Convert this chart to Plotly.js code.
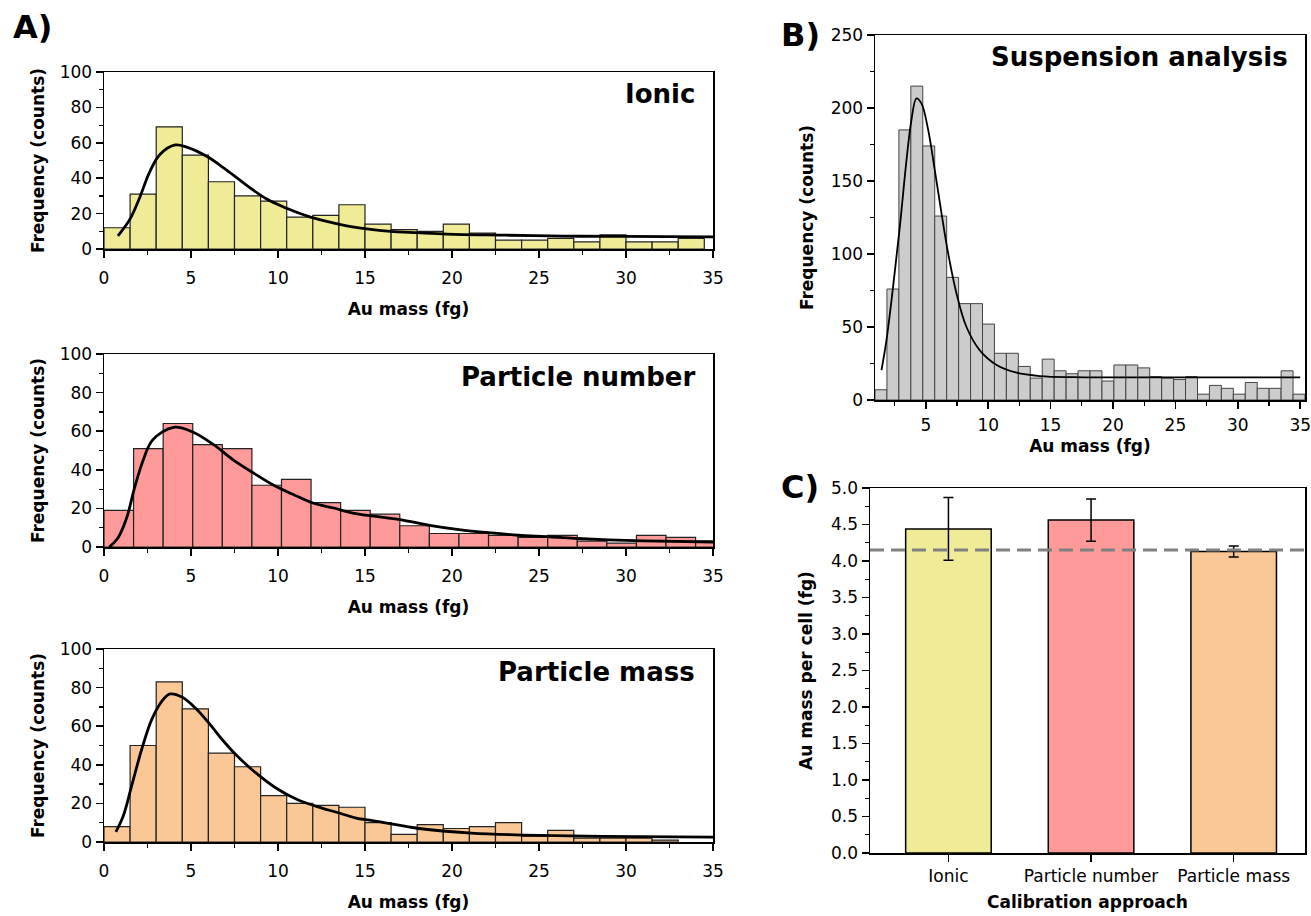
<!DOCTYPE html>
<html><head><meta charset="utf-8">
<script src="https://cdn.plot.ly/plotly-3.0.1.min.js"></script>
<style>html,body{margin:0;padding:0;background:#fff}#chart{width:1311px;height:916px}</style>
</head><body><div id="chart"></div>
<script>
// ---------- DATA ----------
// Panel A: histograms of Au mass per cell (fg), counts per bin
const ionicBinStart = 0, ionicBinWidth = 1.5;
const ionicCounts = [12,31,69,53,38,30,27,18,19,25,14,11,10,14,9,5,5,6,4,8,4,4,6];
const ionicFitX = [0.8,1.5,2.05,2.6,3.2,4.1,4.75,5.9,7.05,8.2,9.35,10.5,11.65,12.8,13.95,15.1,16.45,18,19.7,23.1,26.4,29.8,35];
const ionicFitY = [7.4,17,29,43,53.3,58.8,57.6,52.4,44.6,36,28.2,23,18.7,15.6,13.1,11.4,10,9.2,8.4,7.8,7.3,7.1,6.9];

const pnBinStart = 0, pnBinWidth = 1.7;
const pnCounts = [19,51,64,53,51,32,35,23,19,17,11,7,7,6,5,6,3,2,6,5,3];
const pnFitX = [0.3,0.8,1.3,1.75,2.25,2.8,4,5.1,6.3,7.4,8.6,9.7,10.9,12,13.2,14.3,15.5,17,18.8,20.4,22.1,23.8,25.6,27.2,29,31,35];
const pnFitY = [0,4.7,15,30.5,45,55.5,62,59.6,53,45.3,38.3,32.3,27.1,22.8,20.2,17.6,16,14.2,11.1,9,7.4,6.1,5.3,4.4,3.7,3.2,2.6];

const pmBinStart = 0, pmBinWidth = 1.5;
const pmCounts = [8,50,83,69,46,39,24,20,19,18,10,4,9,7,8,10,3,6,2,2,2,1];
const pmFitX = [0.68,1.1,1.58,2.16,2.74,3.32,3.8,4.48,5.25,6.02,6.8,7.57,8.73,9.88,11.04,12.2,13.36,14.5,15.5,16.25,18.1,21.1,24.1,28.6,35];
const pmFitY = [5.2,13.3,28.8,47.8,63.4,72.9,76.7,75.1,69.4,61.7,53,45.3,35.8,28,22.3,18.5,15.4,12.4,11,9.8,7,4.6,3.6,2.9,2.5];

// Panel B: suspension analysis
const suspBinStart = 0.93, suspBinWidth = 0.957;
const suspCounts = [7,76,185,215,174,126,84,66,66,52,32,32,23,15,28,20,18,20,20,13,24,24,22,16,15,14,16,4,10,8,4,12,8,8,20,4];
const suspFitX = [1.45,1.85,2.38,2.92,3.45,3.85,4.25,4.66,5.19,5.72,6.26,6.79,7.46,8.26,9.33,10.67,12.27,14.14,16.8,25,35];
const suspFitY = [20.5,41,77.6,118.7,164,191.8,206.6,203,185,157.5,127.8,100.5,73,50,34,24,18.7,16.4,15.6,15.5,15.5];

// Panel C: mean Au mass per cell by calibration approach
const calibCategories = ['Ionic','Particle number','Particle mass'];
const calibMass = [4.44,4.56,4.13];
const calibError = [0.43,0.29,0.075];
const referenceMass = 4.15;

// ---------- STYLE ----------
const W = 1311, H = 916;
const FONT = 'DejaVu Sans, Liberation Sans, Arial, sans-serif';
const colIonic = '#F0EB96', colPN = '#FF9A9A', colPM = '#FAC896', colSusp = '#CCCCCC';
const dx = (a,b) => [a/W, b/W];
const dy = (top,bottom) => [1-bottom/H, 1-top/H];

function centers(start, width, counts){ return counts.map((_, i) => start + (i + 0.5) * width); }

function axis(extra){
  return Object.assign({
    showline:true, linecolor:'#000', linewidth:1.5, mirror:true,
    ticks:'outside', ticklen:7, tickwidth:1.5, tickcolor:'#000',
    showgrid:false, zeroline:false, fixedrange:true, ticklabeloverflow:'allow',
    tickfont:{family:FONT, size:17, color:'#000'},
    minor:{ticks:'outside', ticklen:4, tickwidth:1.2, tickcolor:'#000'}
  }, extra);
}
function title(t, standoff){ return {text:'<b>'+t+'</b>', font:{family:FONT, size:17, color:'#000'}, standoff:standoff}; }

const traces = [];
function hist(xa, ya, start, width, counts, color, lineCol, lw){
  traces.push({type:'bar', x:centers(start,width,counts), y:counts, width:width,
    xaxis:xa, yaxis:ya, marker:{color:color, line:{color:lineCol, width:lw}}, hoverinfo:'x+y'});
}
function fit(xa, ya, xs, ys, w){
  traces.push({type:'scatter', mode:'lines', x:xs, y:ys, xaxis:xa, yaxis:ya,
    line:{color:'#000', width:w, shape:'spline', smoothing:1}, hoverinfo:'skip'});
}

hist('x','y', ionicBinStart, ionicBinWidth, ionicCounts, colIonic, '#222', 1.2);
fit('x','y', ionicFitX, ionicFitY, 2.8);
hist('x2','y2', pnBinStart, pnBinWidth, pnCounts, colPN, '#222', 1.2);
fit('x2','y2', pnFitX, pnFitY, 2.8);
hist('x3','y3', pmBinStart, pmBinWidth, pmCounts, colPM, '#222', 1.2);
fit('x3','y3', pmFitX, pmFitY, 2.8);
hist('x4','y4', suspBinStart, suspBinWidth, suspCounts, colSusp, '#444', 1);
fit('x4','y4', suspFitX, suspFitY, 1.8);
traces.push({type:'bar', x:calibCategories, y:calibMass, width:0.6, xaxis:'x5', yaxis:'y5',
  marker:{color:[colIonic,colPN,colPM], line:{color:'#000', width:1.5}},
  error_y:{type:'data', array:calibError, visible:true, color:'#000', thickness:1.5, width:5}});

const aX = dx(104,713);
const histX = (anchor) => axis({domain:aX, anchor:anchor, range:[0,35], dtick:5, tick0:0,
  minor:{dtick:2.5, ticks:'outside', ticklen:4, tickwidth:1.2, tickcolor:'#000'},
  ticklabelstandoff:6, title:title('Au mass (fg)', 16)});
const histY = (anchor, top, bottom) => axis({domain:dy(top,bottom), anchor:anchor, range:[0,100], dtick:20,
  minor:{dtick:10, ticks:'outside', ticklen:4, tickwidth:1.2, tickcolor:'#000'},
  title:title('Frequency (counts)', 10)});

function label(text, x, y, size, xanchor){
  return {text:'<b>'+text+'</b>', x:x/W, y:1-y/H, xref:'paper', yref:'paper', xanchor:xanchor||'center',
    yanchor:'middle', showarrow:false, font:{family:FONT, size:size, color:'#000'}};
}

const layout = {
  width:W, height:H, margin:{l:0,r:0,t:0,b:0}, showlegend:false,
  paper_bgcolor:'#fff', plot_bgcolor:'#fff', bargap:0,
  font:{family:FONT, color:'#000'},
  xaxis: histX('y'), yaxis: histY('x', 72, 249),
  xaxis2: histX('y2'), yaxis2: histY('x2', 354, 547),
  xaxis3: histX('y3'), yaxis3: histY('x3', 649, 842),
  xaxis4: axis({domain:dx(875,1305), anchor:'y4', range:[suspBinStart, suspBinStart + suspCounts.length*suspBinWidth],
    tickvals:[5,10,15,20,25,30,35], minor:{dtick:2.5, tick0:0, ticks:'outside', ticklen:4, tickwidth:1.2, tickcolor:'#000'},
    ticklabelstandoff:2, title:title('Au mass (fg)', 6)}),
  yaxis4: axis({domain:dy(35,400), anchor:'x4', range:[0,250], dtick:50,
    minor:{dtick:25, ticks:'outside', ticklen:4, tickwidth:1.2, tickcolor:'#000'},
    title:title('Frequency (counts)', 12)}),
  xaxis5: axis({domain:dx(870,1305), anchor:'y5', type:'category', range:[-0.55,2.5],
    minor:{ticks:''}, ticklabelstandoff:0, title:title('Calibration approach', 11)}),
  yaxis5: axis({domain:dy(488,853), anchor:'x5', range:[0,5], dtick:0.5, tickformat:'.1f',
    minor:{dtick:0.25, ticks:'outside', ticklen:4, tickwidth:1.2, tickcolor:'#000'},
    title:title('Au mass per cell (fg)', 14)}),
  shapes:[{type:'line', xref:'x5 domain', yref:'y5', x0:0, x1:1, y0:referenceMass, y1:referenceMass,
    line:{color:'#808080', width:3, dash:'14px,7px'}, layer:'above'}],
  annotations:[
    label('A)', 32, 27, 32),
    label('B)', 800, 35, 32),
    label('C)', 800, 487, 32),
    label('Ionic', 697, 94, 26, 'right'),
    label('Particle number', 697, 377, 26, 'right'),
    label('Particle mass', 697, 672, 26, 'right'),
    label('Suspension analysis', 1290, 57, 26, 'right')
  ]
};

Plotly.newPlot('chart', traces, layout, {displayModeBar:false, staticPlot:true});
</script>
</body></html>
